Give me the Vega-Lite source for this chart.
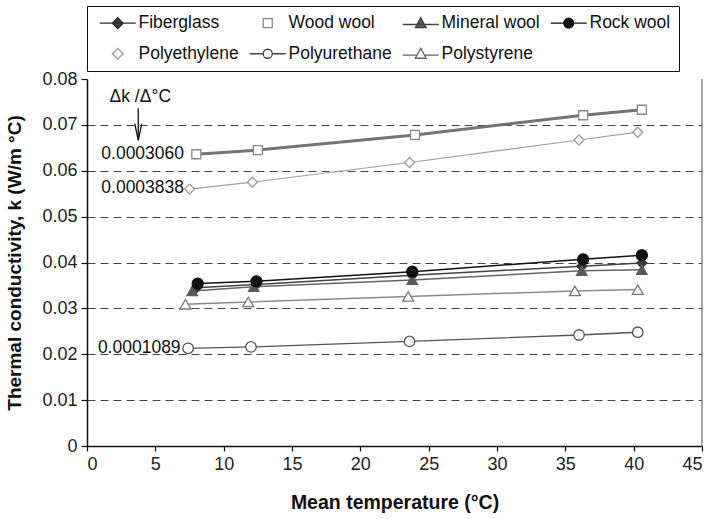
{
  "$schema": "https://vega.github.io/schema/vega-lite/v6.json",
  "width": 615,
  "height": 367,
  "autosize": "none",
  "padding": {"left": 87, "top": 79, "right": 10, "bottom": 73},
  "background": "white",
  "config": {
    "font": "Liberation Sans",
    "view": {"stroke": null},
    "axis": {
      "domainColor": "#111",
      "domainWidth": 1.5,
      "tickColor": "#111",
      "tickWidth": 1.2,
      "tickSize": 5,
      "labelFont": "Liberation Sans",
      "labelFontSize": 18,
      "labelColor": "#222",
      "titleFont": "Liberation Sans",
      "titleFontSize": 19.5,
      "titleFontWeight": "bold",
      "titleColor": "#111"
    },
    "legend": {
      "orient": "top",
      "offset": 8,
      "padding": 8,
      "strokeColor": "#111",
      "fillColor": "white",
      "columns": 4,
      "direction": "horizontal",
      "gridAlign": "each",
      "columnPadding": 6,
      "rowPadding": 12,
      "symbolSize": 81,
      "symbolStrokeWidth": 1.3,
      "symbolOffset": 14,
      "symbolOpacity": 1,
      "labelFont": "Liberation Sans",
      "labelFontSize": 17.5,
      "labelColor": "#111",
      "labelOffset": 12,
      "labelLimit": 200
    }
  },
  "datasets": {
    "series": [
      {"series": "Fiberglass", "t": 8.0, "k": 0.0345},
      {"series": "Fiberglass", "t": 12.4, "k": 0.0352},
      {"series": "Fiberglass", "t": 23.8, "k": 0.0372},
      {"series": "Fiberglass", "t": 36.2, "k": 0.0392},
      {"series": "Fiberglass", "t": 40.6, "k": 0.0399},
      {"series": "Wood wool", "t": 8.0, "k": 0.0636},
      {"series": "Wood wool", "t": 12.5, "k": 0.0645},
      {"series": "Wood wool", "t": 24.0, "k": 0.0678},
      {"series": "Wood wool", "t": 36.3, "k": 0.0721},
      {"series": "Wood wool", "t": 40.6, "k": 0.0733},
      {"series": "Mineral wool", "t": 7.7, "k": 0.0338},
      {"series": "Mineral wool", "t": 12.2, "k": 0.0347},
      {"series": "Mineral wool", "t": 23.8, "k": 0.0362},
      {"series": "Mineral wool", "t": 36.2, "k": 0.0382},
      {"series": "Mineral wool", "t": 40.6, "k": 0.0384},
      {"series": "Rock wool", "t": 8.1, "k": 0.0354},
      {"series": "Rock wool", "t": 12.4, "k": 0.0359},
      {"series": "Rock wool", "t": 23.8, "k": 0.0380},
      {"series": "Rock wool", "t": 36.3, "k": 0.0407},
      {"series": "Rock wool", "t": 40.6, "k": 0.0416},
      {"series": "Polyethylene", "t": 7.5, "k": 0.0560},
      {"series": "Polyethylene", "t": 12.1, "k": 0.0575},
      {"series": "Polyethylene", "t": 23.6, "k": 0.0618},
      {"series": "Polyethylene", "t": 36.0, "k": 0.0667},
      {"series": "Polyethylene", "t": 40.3, "k": 0.0684},
      {"series": "Polyurethane", "t": 7.4, "k": 0.0213},
      {"series": "Polyurethane", "t": 12.0, "k": 0.0216},
      {"series": "Polyurethane", "t": 23.6, "k": 0.0228},
      {"series": "Polyurethane", "t": 36.0, "k": 0.0242},
      {"series": "Polyurethane", "t": 40.3, "k": 0.0248},
      {"series": "Polystyrene", "t": 7.2, "k": 0.0309},
      {"series": "Polystyrene", "t": 11.8, "k": 0.0314},
      {"series": "Polystyrene", "t": 23.5, "k": 0.0326},
      {"series": "Polystyrene", "t": 35.7, "k": 0.0338},
      {"series": "Polystyrene", "t": 40.3, "k": 0.0341}
    ]
  },
  "layer": [
    {
      "data": {"values": [{"t": 45, "k": 0, "k2": 0.08}]},
      "mark": {"type": "rule", "stroke": "#888", "strokeWidth": 1.5},
      "encoding": {
        "x": {
          "field": "t", "type": "quantitative",
          "scale": {"domain": [0, 45], "nice": false},
          "axis": {
            "values": [0, 5, 10, 15, 20, 25, 30, 35, 40, 45],
            "format": "~g",
            "title": "Mean temperature (°C)",
            "labelPadding": 4,
            "titlePadding": 20,
            "grid": false
          }
        },
        "y": {
          "field": "k", "type": "quantitative",
          "scale": {"domain": [0, 0.08], "nice": false},
          "axis": {
            "values": [0, 0.01, 0.02, 0.03, 0.04, 0.05, 0.06, 0.07, 0.08],
            "format": "~g",
            "title": "Thermal conductivity, k (W/m °C)",
            "titleFontSize": 19,
            "tickSize": 6,
            "labelPadding": 4,
            "titlePadding": 17,
            "grid": true,
            "gridDash": [8, 5],
            "gridColor": "#444",
            "gridWidth": 1.2,
            "gridOpacity": {"condition": {"test": "datum.value > 0.075 || datum.value < 0.005", "value": 0}, "value": 1}
          }
        },
        "y2": {"field": "k2"}
      }
    },
    {
      "data": {"name": "series"},
      "mark": {"type": "line"},
      "encoding": {
        "x": {"field": "t", "type": "quantitative"},
        "y": {"field": "k", "type": "quantitative"},
        "order": {"field": "t"},
        "stroke": {
          "field": "series", "type": "nominal",
          "scale": {
            "domain": ["Fiberglass", "Wood wool", "Mineral wool", "Rock wool", "Polyethylene", "Polyurethane", "Polystyrene"],
            "range": ["#444444", "#747474", "#666666", "#111111", "#a0a0a0", "#555555", "#8a8a8a"]
          },
          "legend": null
        },
        "strokeWidth": {
          "field": "series", "type": "nominal",
          "scale": {
            "type": "ordinal",
            "domain": ["Fiberglass", "Wood wool", "Mineral wool", "Rock wool", "Polyethylene", "Polyurethane", "Polystyrene"],
            "range": [1.5, 3, 1.5, 1.5, 1.2, 1.3, 1.5]
          },
          "legend": null
        }
      }
    },
    {
      "data": {"name": "series"},
      "mark": {"type": "point", "filled": true, "strokeWidth": 1.3, "opacity": 1},
      "encoding": {
        "x": {"field": "t", "type": "quantitative"},
        "y": {"field": "k", "type": "quantitative"},
        "shape": {
          "field": "series", "type": "nominal",
          "scale": {
            "domain": ["Fiberglass", "Wood wool", "Mineral wool", "Rock wool", "Polyethylene", "Polyurethane", "Polystyrene"],
            "range": ["diamond", "square", "triangle-up", "circle", "diamond", "circle", "triangle-up"]
          },
          "legend": null
        },
        "fill": {
          "field": "series", "type": "nominal",
          "scale": {
            "domain": ["Fiberglass", "Wood wool", "Mineral wool", "Rock wool", "Polyethylene", "Polyurethane", "Polystyrene"],
            "range": ["#3a3a3a", "#ffffff", "#5a5a5a", "#111111", "#ffffff", "#ffffff", "#ffffff"]
          },
          "legend": null
        },
        "stroke": {
          "field": "series", "type": "nominal",
          "scale": {
            "domain": ["Fiberglass", "Wood wool", "Mineral wool", "Rock wool", "Polyethylene", "Polyurethane", "Polystyrene"],
            "range": ["#3a3a3a", "#888888", "#5a5a5a", "#111111", "#999999", "#555555", "#777777"]
          },
          "legend": null
        },
        "size": {
          "field": "series", "type": "nominal",
          "scale": {
            "type": "ordinal",
            "domain": ["Fiberglass", "Wood wool", "Mineral wool", "Rock wool", "Polyethylene", "Polyurethane", "Polystyrene"],
            "range": [100, 81, 110, 121, 100, 110, 120]
          },
          "legend": null
        }
      }
    },
    {
      "data": {"name": "series"},
      "mark": {"type": "point", "filled": true, "opacity": 0, "size": 81},
      "encoding": {
        "x": {"field": "t", "type": "quantitative"},
        "y": {"field": "k", "type": "quantitative"},
        "shape": {
          "field": "series", "type": "nominal",
          "scale": {
            "domain": ["Fiberglass", "Wood wool", "Mineral wool", "Rock wool", "Polyethylene", "Polyurethane", "Polystyrene"],
            "range": [
              "M-4,0H4M0,-1.2L1.2,0L0,1.2L-1.2,0Z",
              "M-1,-1H1V1H-1Z",
              "M-4,0.3H4M0,-1.2L1.2,1H-1.2Z",
              "M-4,0H4M-1.1,0A1.1,1.1 0 1,0 1.1,0A1.1,1.1 0 1,0 -1.1,0Z",
              "M0,-1.2L1.2,0L0,1.2L-1.2,0Z",
              "M-4,0H-1M1,0H4M-1,0A1,1 0 1,0 1,0A1,1 0 1,0 -1,0Z",
              "M-4,0.3H-0.85M0.85,0.3H4M0,-1.2L1.2,1H-1.2Z"
            ]
          },
          "legend": {"title": null}
        },
        "fill": {
          "field": "series", "type": "nominal",
          "scale": {
            "domain": ["Fiberglass", "Wood wool", "Mineral wool", "Rock wool", "Polyethylene", "Polyurethane", "Polystyrene"],
            "range": ["#3a3a3a", "#ffffff", "#5a5a5a", "#111111", "#ffffff", "#ffffff", "#ffffff"]
          },
          "legend": {"title": null}
        },
        "stroke": {
          "field": "series", "type": "nominal",
          "scale": {
            "domain": ["Fiberglass", "Wood wool", "Mineral wool", "Rock wool", "Polyethylene", "Polyurethane", "Polystyrene"],
            "range": ["#2a2a2a", "#888888", "#444444", "#111111", "#999999", "#444444", "#666666"]
          },
          "legend": {"title": null}
        }
      }
    },
    {
      "data": {"values": [{"t": 3.75, "k": 0.0736, "k2": 0.0668}]},
      "mark": {"type": "rule", "stroke": "#111", "strokeWidth": 1.3},
      "encoding": {
        "x": {"field": "t", "type": "quantitative"},
        "y": {"field": "k", "type": "quantitative"},
        "y2": {"field": "k2"}
      }
    },
    {
      "data": {"values": [{"t": 3.75, "k": 0.0666}]},
      "mark": {"type": "point", "shape": "M-1,-4.8L0,0L1,-4.8", "size": 49, "filled": false, "fill": null, "stroke": "#111", "strokeWidth": 1.3, "opacity": 1},
      "encoding": {
        "x": {"field": "t", "type": "quantitative"},
        "y": {"field": "k", "type": "quantitative"}
      }
    },
    {
      "data": {"values": [{"t": 3.9, "k": 0.0760, "label": "Δk /Δ°C"}]},
      "mark": {"type": "text", "align": "center", "baseline": "middle", "fontSize": 17.5, "font": "Liberation Sans", "color": "#111"},
      "encoding": {
        "x": {"field": "t", "type": "quantitative"},
        "y": {"field": "k", "type": "quantitative"},
        "text": {"field": "label"}
      }
    },
    {
      "data": {"values": [
        {"t": 7.1, "k": 0.0636, "label": "0.0003060"},
        {"t": 7.1, "k": 0.0562, "label": "0.0003838"},
        {"t": 6.85, "k": 0.0213, "label": "0.0001089"}
      ]},
      "mark": {"type": "text", "align": "right", "baseline": "middle", "fontSize": 17.5, "font": "Liberation Sans", "color": "#111"},
      "encoding": {
        "x": {"field": "t", "type": "quantitative"},
        "y": {"field": "k", "type": "quantitative"},
        "text": {"field": "label"}
      }
    }
  ],
  "resolve": {
    "scale": {
      "shape": "independent",
      "fill": "independent",
      "stroke": "independent",
      "strokeWidth": "independent",
      "size": "independent"
    }
  }
}
